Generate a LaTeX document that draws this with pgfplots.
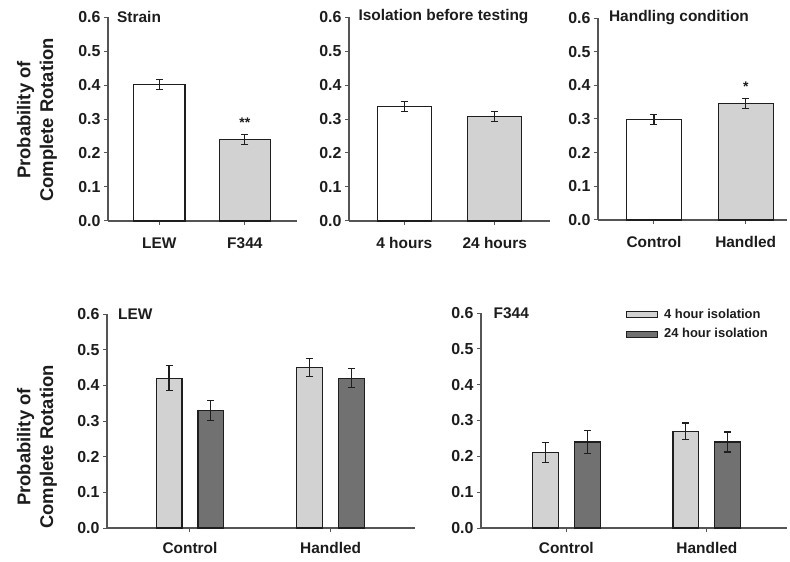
\documentclass[border=0pt]{standalone}
\usepackage{pgfplots}
\pgfplotsset{compat=1.18}
\usepackage{fontspec}
\setmainfont{Liberation Sans}
\definecolor{txt}{HTML}{1C1C1C}
\definecolor{axc}{HTML}{555555}
\definecolor{lightbar}{HTML}{D2D2D2}
\definecolor{darkbar}{HTML}{717171}
\definecolor{edge}{HTML}{1E1E1E}
\tikzset{ttl/.style={anchor=west, font=\bfseries\fontsize{15.5}{17}\selectfont, text=txt}}
\pgfplotsset{
  panel/.style={
    scale only axis,
    anchor=south west,
    axis lines*=left,
    axis line style={axc, line width=1.3pt},
    ymin=0, ymax=0.6,
    ytick={0,0.1,...,0.6},
    xtick={0,1},
    tick align=outside,
    major tick length=4bp,
    every tick/.style={axc, line width=1pt},
    /pgf/number format/assume math mode=true,
    /pgf/number format/fixed, /pgf/number format/fixed zerofill, /pgf/number format/precision=1,
    yticklabel style={font=\bfseries\fontsize{16}{16}\selectfont, text=txt},
    xticklabel style={font=\bfseries\fontsize{15.5}{16}\selectfont, text=txt},
    clip=false,
  },
  ebar/.style={
    /pgfplots/error bars/y dir=both, /pgfplots/error bars/y explicit,
    /pgfplots/error bars/error bar style={line width=1.1pt, color=edge},
    /pgfplots/error bars/error mark options={rotate=90, mark size=3.5bp, line width=1.1pt, color=edge},
  },
}
\begin{document}
\begin{tikzpicture}
\useasboundingbox (0,0) rectangle (790bp,562bp);
% y labels
\node[rotate=90, align=center, font=\bfseries\fontsize{18.5}{23}\selectfont, text=txt] at (37bp,442bp) {Probability of\\Complete Rotation};
\node[rotate=90, align=center, font=\bfseries\fontsize{18.5}{23}\selectfont, text=txt] at (37bp,115bp) {Probability of\\Complete Rotation};

% Panel 1: Strain
\begin{axis}[panel, at={(108bp,341bp)}, width=189bp, height=204bp,
  xmin=-0.60, xmax=1.61, xticklabels={LEW,F344}, xticklabel style={yshift=-9bp}]
\addplot[ybar, bar width=0.6, bar shift=0, fill=white, draw=edge, line width=1.1pt, ebar]
  coordinates {(0,0.402) +- (0,0.015)};
\addplot[ybar, bar width=0.6, bar shift=0, fill=lightbar, draw=edge, line width=1.1pt, ebar]
  coordinates {(1,0.240) +- (0,0.015)};
\node[ttl] at (rel axis cs:0.03,1) {Strain};
\node[font=\bfseries\fontsize{14}{14}\selectfont, text=txt] at (axis cs:1,0.29) {**};
\end{axis}

% Panel 2: Isolation
\begin{axis}[panel, at={(349bp,341bp)}, width=201bp, height=204bp,
  xmin=-0.61, xmax=1.61, xticklabels={4 hours,24 hours}, xticklabel style={yshift=-9bp}]
\addplot[ybar, bar width=0.6, bar shift=0, fill=white, draw=edge, line width=1.1pt, ebar]
  coordinates {(0,0.336) +- (0,0.015)};
\addplot[ybar, bar width=0.6, bar shift=0, fill=lightbar, draw=edge, line width=1.1pt, ebar]
  coordinates {(1,0.308) +- (0,0.015)};
\node[ttl] at (rel axis cs:0.03,1) {Isolation before testing};
\end{axis}

% Panel 3: Handling
\begin{axis}[panel, at={(598bp,342bp)}, width=189bp, height=202bp,
  xmin=-0.61, xmax=1.45, xticklabels={Control,Handled}, xticklabel style={yshift=-9bp}]
\addplot[ybar, bar width=0.6, bar shift=0, fill=white, draw=edge, line width=1.1pt, ebar]
  coordinates {(0,0.298) +- (0,0.015)};
\addplot[ybar, bar width=0.6, bar shift=0, fill=lightbar, draw=edge, line width=1.1pt, ebar]
  coordinates {(1,0.345) +- (0,0.015)};
\node[ttl] at (rel axis cs:0.04,1) {Handling condition};
\node[font=\bfseries\fontsize{14}{14}\selectfont, text=txt] at (axis cs:1,0.395) {*};
\end{axis}

% Panel 4: LEW
\begin{axis}[panel, at={(107bp,34bp)}, width=308bp, height=214bp,
  xmin=-0.59, xmax=1.6, xticklabels={Control,Handled}, xticklabel style={yshift=-7bp}]
\addplot[ybar, bar width=0.184, bar shift=0, fill=lightbar, draw=edge, line width=1.1pt, ebar]
  coordinates {(-0.149,0.42) +- (0,0.035) (0.851,0.45) +- (0,0.025)};
\addplot[ybar, bar width=0.184, bar shift=0, fill=darkbar, draw=edge, line width=1.1pt, ebar]
  coordinates {(0.149,0.33) +- (0,0.028) (1.149,0.42) +- (0,0.027)};
\node[ttl] at (rel axis cs:0.025,1) {LEW};
\end{axis}

% Panel 5: F344
\begin{axis}[panel, at={(481bp,34bp)}, width=306bp, height=215bp,
  xmin=-0.607, xmax=1.57, xticklabels={Control,Handled}, xticklabel style={yshift=-7bp},
  legend style={draw=none, fill=none, inner sep=0pt, at={(rel axis cs:0.472,1.03)}, anchor=north west,
    font=\bfseries\fontsize{13}{13}\selectfont, text=txt, row sep=5bp},
  legend cell align=left]
\addplot[ybar, bar width=0.184, bar shift=0, fill=lightbar, draw=edge, line width=1.1pt,
  legend image code/.code={\draw[fill=lightbar, draw=edge, line width=1pt] (0bp,-3bp) rectangle (31bp,3bp); \path[draw=none, fill=none] (0bp,0bp) -- (36bp,0bp);}, ebar]
  coordinates {(-0.149,0.21) +- (0,0.028) (0.851,0.27) +- (0,0.023)};
\addlegendentry{4 hour isolation}
\addplot[ybar, bar width=0.184, bar shift=0, fill=darkbar, draw=edge, line width=1.1pt,
  legend image code/.code={\draw[fill=darkbar, draw=edge, line width=1pt] (0bp,-3bp) rectangle (31bp,3bp); \path[draw=none, fill=none] (0bp,0bp) -- (36bp,0bp);}, ebar]
  coordinates {(0.149,0.24) +- (0,0.032) (1.149,0.24) +- (0,0.028)};
\addlegendentry{24 hour isolation}
\node[ttl] at (rel axis cs:0.03,1) {F344};
\end{axis}
\end{tikzpicture}
\end{document}
